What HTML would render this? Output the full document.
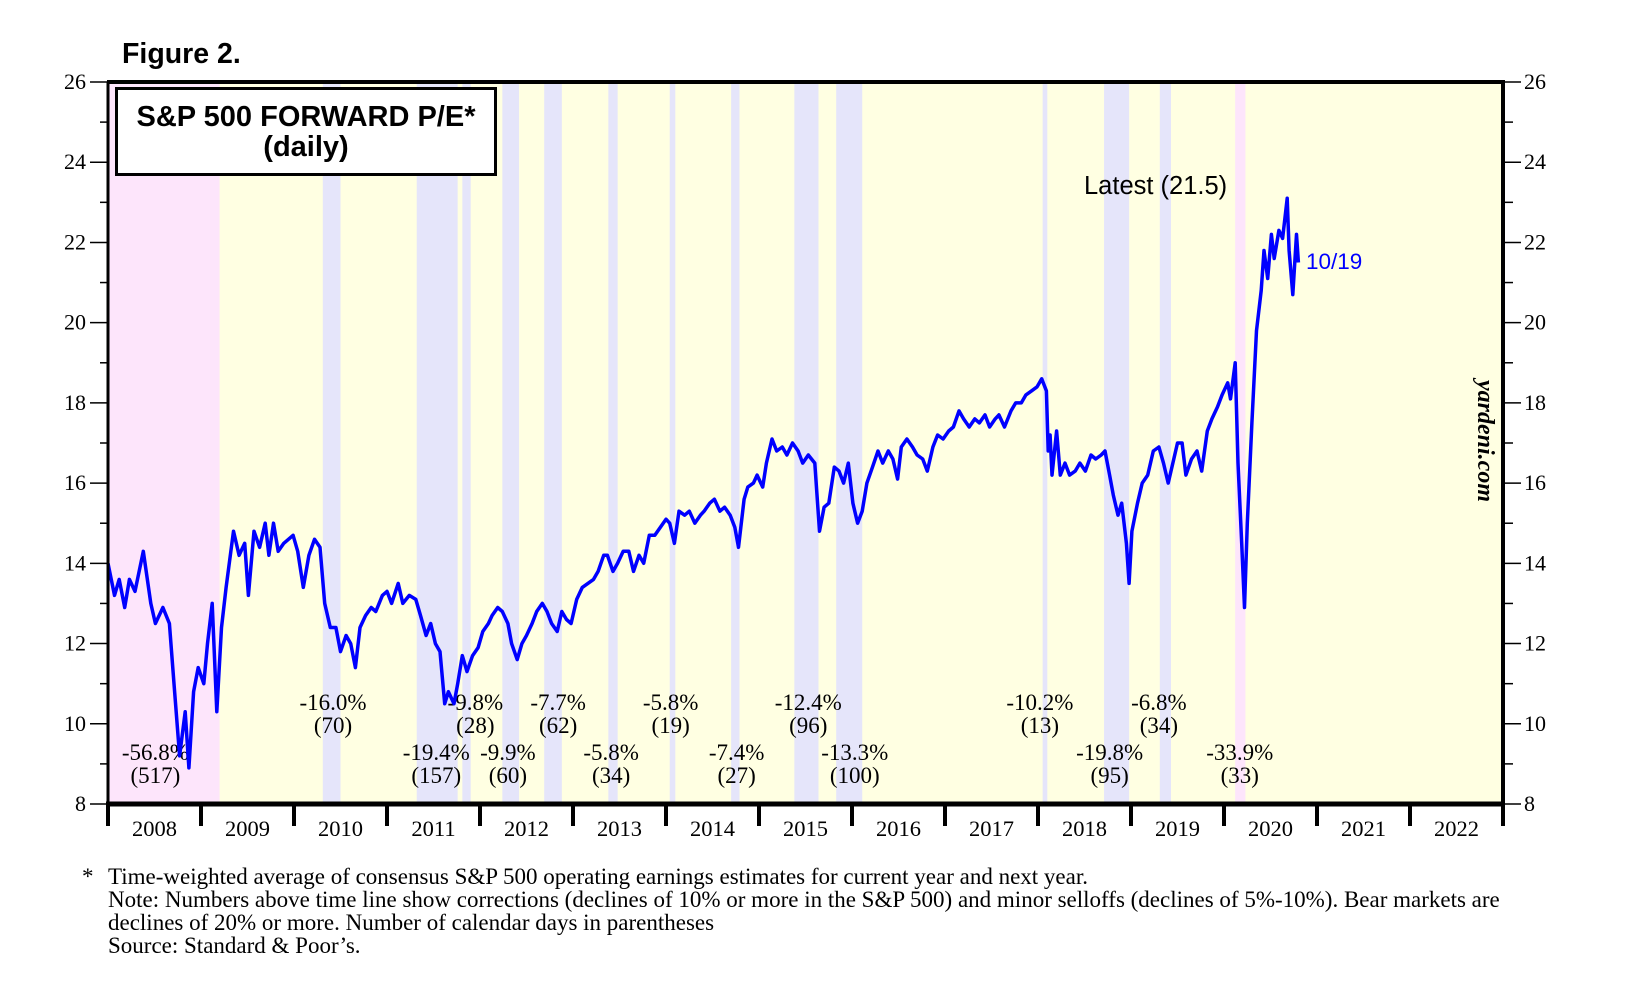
<!DOCTYPE html>
<html><head><meta charset="utf-8">
<style>
html,body{margin:0;padding:0;background:#fff;}
svg{display:block;}
.serif{font-family:"Liberation Serif",serif;}
.sans{font-family:"Liberation Sans",sans-serif;}
</style></head>
<body>
<svg id="chart" width="1630" height="999" viewBox="0 0 1630 999" xmlns="http://www.w3.org/2000/svg">
<g id="bands"></g>
<g id="ann"></g>
<g id="series"></g>
<g id="axes"></g>
<text x="122" y="63" class="sans" font-size="28.5" font-weight="bold">Figure 2.</text>
<rect x="116.5" y="88.5" width="379" height="86" fill="#fff" stroke="#000" stroke-width="3"/>
<text x="306" y="126" text-anchor="middle" class="sans" font-size="29" font-weight="bold">S&amp;P 500 FORWARD P/E*</text>
<text x="306" y="156" text-anchor="middle" class="sans" font-size="29" font-weight="bold">(daily)</text>
<text x="1084" y="194" class="sans" font-size="25.5">Latest (21.5)</text>
<text x="1306" y="269" class="sans" font-size="22.5" fill="#0000ff">10/19</text>
<text transform="translate(1478,441) rotate(90)" text-anchor="middle" class="serif" font-size="24" font-weight="bold" font-style="italic">yardeni.com</text>
<g class="serif" font-size="23">
<text x="82" y="884">*</text>
<text x="108" y="884">Time-weighted average of consensus S&amp;P 500 operating earnings estimates for current year and next year.</text>
<text x="108" y="907">Note: Numbers above time line show corrections (declines of 10% or more in the S&amp;P 500) and minor selloffs (declines of 5%-10%). Bear markets are</text>
<text x="108" y="930">declines of 20% or more. Number of calendar days in parentheses</text>
<text x="108" y="953">Source: Standard &amp; Poor’s.</text>
</g>
</svg>
<script>
const dates=[2008.00,2008.07,2008.12,2008.18,2008.23,2008.29,2008.38,2008.46,2008.51,2008.59,2008.66,2008.71,2008.77,2008.83,2008.87,2008.92,2008.97,2009.03,2009.07,2009.12,2009.17,2009.22,2009.27,2009.35,2009.41,2009.47,2009.51,2009.57,2009.63,2009.69,2009.73,2009.78,2009.83,2009.89,2009.99,2010.04,2010.10,2010.16,2010.22,2010.28,2010.33,2010.39,2010.45,2010.50,2010.56,2010.61,2010.66,2010.71,2010.77,2010.83,2010.88,2010.95,2011.00,2011.05,2011.12,2011.17,2011.24,2011.31,2011.36,2011.42,2011.47,2011.52,2011.57,2011.62,2011.66,2011.72,2011.76,2011.81,2011.86,2011.92,2011.98,2012.03,2012.09,2012.13,2012.19,2012.24,2012.30,2012.34,2012.40,2012.45,2012.50,2012.56,2012.61,2012.67,2012.72,2012.77,2012.83,2012.88,2012.93,2012.98,2013.04,2013.10,2013.16,2013.22,2013.27,2013.33,2013.37,2013.43,2013.48,2013.54,2013.60,2013.65,2013.71,2013.76,2013.82,2013.88,2013.94,2014.00,2014.04,2014.09,2014.14,2014.20,2014.25,2014.31,2014.37,2014.41,2014.47,2014.52,2014.58,2014.63,2014.69,2014.74,2014.78,2014.84,2014.88,2014.94,2014.98,2015.04,2015.08,2015.14,2015.19,2015.25,2015.30,2015.36,2015.42,2015.47,2015.53,2015.60,2015.65,2015.70,2015.75,2015.81,2015.86,2015.91,2015.96,2016.01,2016.06,2016.11,2016.16,2016.22,2016.28,2016.33,2016.39,2016.44,2016.49,2016.53,2016.59,2016.65,2016.70,2016.76,2016.81,2016.87,2016.92,2016.98,2017.04,2017.09,2017.15,2017.20,2017.26,2017.32,2017.37,2017.43,2017.48,2017.54,2017.58,2017.64,2017.71,2017.76,2017.82,2017.87,2017.93,2017.99,2018.04,2018.09,2018.11,2018.13,2018.15,2018.20,2018.24,2018.29,2018.34,2018.40,2018.45,2018.51,2018.57,2018.62,2018.68,2018.72,2018.77,2018.81,2018.86,2018.90,2018.95,2018.98,2019.01,2019.07,2019.12,2019.18,2019.24,2019.30,2019.35,2019.40,2019.46,2019.50,2019.55,2019.59,2019.65,2019.71,2019.76,2019.82,2019.87,2019.93,2019.98,2020.04,2020.07,2020.12,2020.15,2020.19,2020.22,2020.25,2020.30,2020.35,2020.40,2020.43,2020.47,2020.51,2020.54,2020.59,2020.63,2020.68,2020.70,2020.74,2020.78,2020.80];
const values=[14.0,13.2,13.6,12.9,13.6,13.3,14.3,13.0,12.5,12.9,12.5,11.0,9.2,10.3,8.9,10.8,11.4,11.0,12.0,13.0,10.3,12.4,13.4,14.8,14.2,14.5,13.2,14.8,14.4,15.0,14.2,15.0,14.3,14.5,14.7,14.3,13.4,14.2,14.6,14.4,13.0,12.4,12.4,11.8,12.2,12.0,11.4,12.4,12.7,12.9,12.8,13.2,13.3,13.0,13.5,13.0,13.2,13.1,12.7,12.2,12.5,12.0,11.8,10.5,10.8,10.5,11.0,11.7,11.3,11.7,11.9,12.3,12.5,12.7,12.9,12.8,12.5,12.0,11.6,12.0,12.2,12.5,12.8,13.0,12.8,12.5,12.3,12.8,12.6,12.5,13.1,13.4,13.5,13.6,13.8,14.2,14.2,13.8,14.0,14.3,14.3,13.8,14.2,14.0,14.7,14.7,14.9,15.1,15.0,14.5,15.3,15.2,15.3,15.0,15.2,15.3,15.5,15.6,15.3,15.4,15.2,14.9,14.4,15.6,15.9,16.0,16.2,15.9,16.5,17.1,16.8,16.9,16.7,17.0,16.8,16.5,16.7,16.5,14.8,15.4,15.5,16.4,16.3,16.0,16.5,15.5,15.0,15.3,16.0,16.4,16.8,16.5,16.8,16.6,16.1,16.9,17.1,16.9,16.7,16.6,16.3,16.9,17.2,17.1,17.3,17.4,17.8,17.6,17.4,17.6,17.5,17.7,17.4,17.6,17.7,17.4,17.8,18.0,18.0,18.2,18.3,18.4,18.6,18.3,16.8,17.2,16.2,17.3,16.2,16.5,16.2,16.3,16.5,16.3,16.7,16.6,16.7,16.8,16.2,15.7,15.2,15.5,14.5,13.5,14.8,15.5,16.0,16.2,16.8,16.9,16.5,16.0,16.6,17.0,17.0,16.2,16.6,16.8,16.3,17.3,17.6,17.9,18.2,18.5,18.1,19.0,16.5,14.5,12.9,15.0,17.5,19.8,20.8,21.8,21.1,22.2,21.6,22.3,22.1,23.1,21.8,20.7,22.2,21.5];
const yTicks=[8,10,12,14,16,18,20,22,24,26];
const yearLabels=['2008','2009','2010','2011','2012','2013','2014','2015','2016','2017','2018','2019','2020','2021','2022'];
const bandStarts=[2010.31,2011.32,2011.81,2012.24,2012.69,2013.38,2014.04,2014.70,2015.38,2015.83,2018.05,2018.71,2019.31,2020.12];
const bandEnds=[2010.50,2011.76,2011.90,2012.42,2012.88,2013.48,2014.10,2014.79,2015.64,2016.11,2018.10,2018.98,2019.43,2020.23];
const bandKinds=['c','c','c','c','c','c','c','c','c','c','c','c','c','b'];
const annX=[2008.51,2010.42,2011.53,2011.95,2012.30,2012.84,2013.41,2014.05,2014.76,2015.53,2016.03,2018.02,2018.77,2019.30,2020.17];
const annPct=['-56.8%','-16.0%','-19.4%','-9.8%','-9.9%','-7.7%','-5.8%','-5.8%','-7.4%','-12.4%','-13.3%','-10.2%','-19.8%','-6.8%','-33.9%'];
const annDays=['(517)','(70)','(157)','(28)','(60)','(62)','(34)','(19)','(27)','(96)','(100)','(13)','(95)','(34)','(33)'];
const annRow=[2,1,2,1,2,1,2,1,2,1,2,1,2,1,2];

const X0=108,X1=1503,Y0=804,Y1=82,T0=2008,T1=2023,V0=8,V1=26;
const xs=t=>X0+(t-T0)/(T1-T0)*(X1-X0);
const ys=v=>Y0-(v-V0)/(V1-V0)*(Y0-Y1);
const NS='http://www.w3.org/2000/svg';
function mk(tag,attrs,parent,txt){const e=document.createElementNS(NS,tag);for(const k in attrs)e.setAttribute(k,attrs[k]);if(txt!==undefined)e.textContent=txt;parent.appendChild(e);return e;}
const bands=document.getElementById('bands');
let bg=mk('rect',{x:X0,y:Y1,width:X1-X0,height:Y0-Y1,fill:'#ffffe2'},bands);


let bear=mk('rect',{x:xs(2008),y:Y1,width:xs(2009.20)-xs(2008),height:Y0-Y1,fill:'#fde5fb'},bands);


for(let i=0;i<bandStarts.length;i++){
 const r=mk('rect',{x:xs(bandStarts[i]),y:Y1,width:xs(bandEnds[i])-xs(bandStarts[i]),height:Y0-Y1,fill:bandKinds[i]==='b'?'#fde5fb':'#e5e5fa'},bands);
 
 
}
const ann=document.getElementById('ann');
for(let i=0;i<annX.length;i++){
 const base=annRow[i]===1?710:760;
 const t1=mk('text',{x:xs(annX[i]),y:base,'text-anchor':'middle','class':'serif','font-size':23},ann,annPct[i]);
 
 
 const t2=mk('text',{x:xs(annX[i]),y:base+23,'text-anchor':'middle','class':'serif','font-size':23},ann,annDays[i]);
 
 
}
const series=document.getElementById('series');
let d='';
for(let i=0;i<dates.length;i++){d+=(i?'L':'M')+xs(dates[i]).toFixed(1)+' '+ys(values[i]).toFixed(1);}
const ln=mk('path',{d:d,fill:'none',stroke:'#0000ff','stroke-width':3.5,'stroke-linejoin':'round'},series);


const axes=document.getElementById('axes');
mk('line',{x1:X0-1,y1:Y1,x2:X1+2,y2:Y1,stroke:'#000','stroke-width':4},axes);
mk('line',{x1:X0,y1:Y1,x2:X0,y2:Y0,stroke:'#000','stroke-width':3},axes);
mk('line',{x1:X1,y1:Y1-2,x2:X1,y2:Y0,stroke:'#000','stroke-width':4},axes);
mk('line',{x1:X0-2,y1:Y0,x2:X1+2,y2:Y0,stroke:'#000','stroke-width':5},axes);
for(let v=V0;v<=V1;v++){
 const major=v%2===0;const y=ys(v);
 mk('line',{x1:major?90:100,y1:y,x2:X0,y2:y,stroke:'#000','stroke-width':1.5},axes);
 mk('line',{x1:X1,y1:y,x2:major?1521:1513,y2:y,stroke:'#000','stroke-width':1.5},axes);
}
yTicks.forEach(v=>{
 const l=mk('text',{x:86,y:ys(v)+7,'text-anchor':'end','class':'serif','font-size':22},axes,String(v));
 
 
 const r=mk('text',{x:1524,y:ys(v)+7,'class':'serif','font-size':22},axes,String(v));
 
 
});
for(let k=0;k<=yearLabels.length;k++){
 const x=xs(T0+k);
 mk('line',{x1:x,y1:Y0,x2:x,y2:826,stroke:'#000','stroke-width':4},axes);
}
yearLabels.forEach((s,k)=>{
 const t=mk('text',{x:xs(T0+k+0.5),y:836,'text-anchor':'middle','class':'serif','font-size':22.5},axes,s);
 
 
});
</script>
</body></html>
